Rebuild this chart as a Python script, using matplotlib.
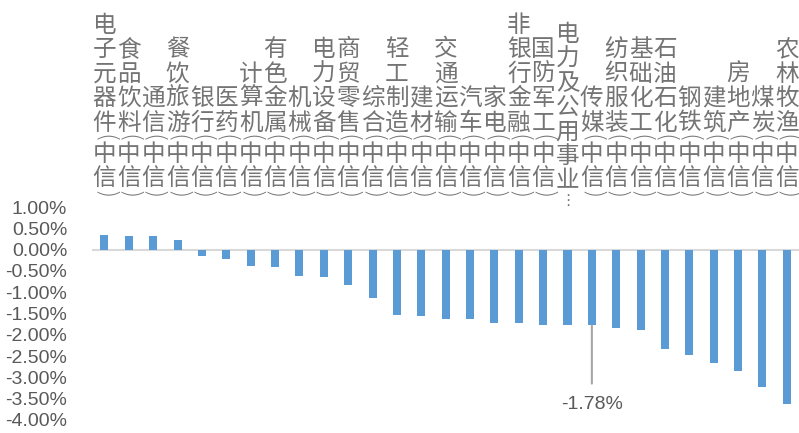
import matplotlib
matplotlib.use('Agg')
import matplotlib.pyplot as plt
import matplotlib.transforms as mtransforms
from matplotlib.ticker import FuncFormatter, MultipleLocator

# 中信一级行业 周涨跌幅 (%)
industries = ['电子元器件', '食品饮料', '通信', '餐饮旅游', '银行', '医药', '计算机',
              '有色金属', '机械', '电力设备', '商贸零售', '综合', '轻工制造', '建材',
              '交通运输', '汽车', '家电', '非银行金融', '国防军工', '电力及公用事业',
              '传媒', '纺织服装', '基础化工', '石油石化', '钢铁', '建筑', '房地产',
              '煤炭', '农林牧渔']
returns = [0.34, 0.31, 0.31, 0.22, -0.14, -0.23, -0.39, -0.42, -0.63, -0.65,
           -0.84, -1.14, -1.53, -1.56, -1.62, -1.62, -1.73, -1.73, -1.76, -1.77,
           -1.78, -1.84, -1.88, -2.33, -2.48, -2.66, -2.84, -3.23, -3.62]
highlight = '传媒'
yticks = [1.0, 0.5, 0.0, -0.5, -1.0, -1.5, -2.0, -2.5, -3.0, -3.5, -4.0]

W, H = 799, 433
gray = '#595959'
lab_col = '#747474'
cjk = ['Noto Sans CJK SC', 'DejaVu Sans']

fig = plt.figure(figsize=(W / 100, H / 100), dpi=100)
ax = fig.add_axes([0.1155, 13 / H, 1 - 0.1155, 213 / H])

x = list(range(len(industries)))
ax.bar(x, returns, width=0.33, color='#5b9bd5', zorder=2)
ax.axhline(0, color='#d9d9d9', lw=1.5, zorder=1)

ax.set_xlim(-0.5, len(industries) - 0.5)
ax.set_ylim(min(yticks), max(yticks))
ax.yaxis.set_major_locator(MultipleLocator(0.5))
ax.yaxis.set_major_formatter(FuncFormatter(lambda v, p: f'{v:.2f}%'))
ax.tick_params(axis='y', length=0, pad=18, labelsize=14, labelcolor=gray)
ax.set_xticks([])
for s in ax.spines.values():
    s.set_visible(False)
for t in ax.get_yticklabels():
    t.set_fontfamily('Liberation Sans')

# vertical category labels, stacked char by char above the plot
trans = mtransforms.blended_transform_factory(ax.transData, fig.transFigure)
row, prow = 24.4, 7.0
for i, name in enumerate(industries):
    if (len(name) + 2) * row + 2 * prow > 200:
        # too long: Excel cuts it and puts a vertical ellipsis
        glyphs = [(c, row) for c in name] + [('⋮', 5)]
    else:
        glyphs = [(c, row) for c in name] + [('(', prow), ('中', row), ('信', row), (')', prow)]
    y = 198.0
    for c, h in reversed(glyphs):
        cy = y - h / 2
        if c == '⋮':
            ax.text(i, (H - 201) / H, c, transform=trans, ha='center', va='center',
                    fontsize=11, color=lab_col, family='DejaVu Sans')
        elif c in '()':
            ax.text(i, (H - cy) / H, c, transform=trans, ha='center', va='center',
                    rotation=-90, fontsize=17, color=lab_col, family='DejaVu Sans',
                    fontweight='light')
        else:
            ax.text(i, (H - cy) / H, c, transform=trans, ha='center', va='center',
                    fontsize=17, color=lab_col, family=cjk)
        y -= h

# callout on the highlighted bar
k = industries.index(highlight)
ax.annotate(f'{returns[k]:.2f}%', xy=(k, returns[k]), xytext=(0, -57),
            textcoords='offset points', ha='center', va='center',
            fontsize=14, color=gray, family='Liberation Sans',
            arrowprops=dict(arrowstyle='-', color='#a6a6a6', lw=1.5,
                            shrinkA=7, shrinkB=0))

fig.savefig('out.png', dpi=100)
